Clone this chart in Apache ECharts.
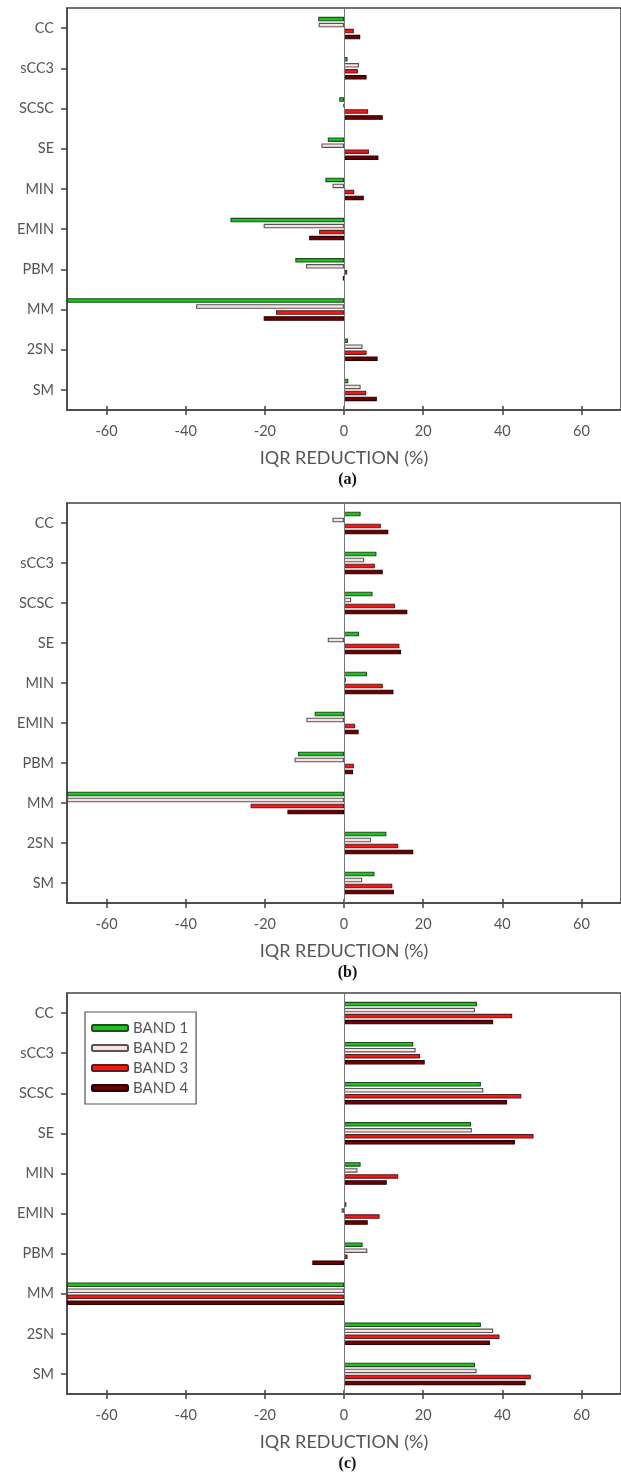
<!DOCTYPE html>
<html>
<head>
<meta charset="utf-8">
<script src="https://cdn.jsdelivr.net/npm/echarts@6/dist/echarts.min.js"></script>
<style>
  html, body { margin: 0; padding: 0; background: #fff; }
  #chart { width: 621px; height: 1479px; }
</style>
</head>
<body>
<div id="chart"></div>
<script>
// Methods (top to bottom) and spectral bands
const categories = ['CC', 'sCC3', 'SCSC', 'SE', 'MIN', 'EMIN', 'PBM', 'MM', '2SN', 'SM'];
const bands = ['BAND 1', 'BAND 2', 'BAND 3', 'BAND 4'];
const xTicks = [-60, -40, -20, 0, 20, 40, 60];
const panelLabels = ['(a)', '(b)', '(c)'];

// IQR reduction (%) — panel (a)
const aBand1 = [-6.5, 0.9, -1.2, -4.1, -4.7, -28.7, -12.3, -70, 1.0, 1.1];
const aBand2 = [-6.4, 3.8, -0.2, -5.7, -2.9, -20.3, -9.6, -37.4, 4.7, 4.2];
const aBand3 = [2.5, 3.5, 6.1, 6.3, 2.6, -6.3, 0.8, -17.2, 5.7, 5.6];
const aBand4 = [4.1, 5.7, 9.8, 8.7, 5.0, -8.8, -0.3, -20.3, 8.5, 8.3];

// IQR reduction (%) — panel (b)
const bBand1 = [4.2, 8.2, 7.2, 3.8, 5.8, -7.4, -11.6, -70, 10.7, 7.7];
const bBand2 = [-2.9, 5.1, 1.8, -4.1, 0.5, -9.5, -12.5, -70, 6.8, 4.6];
const bBand3 = [9.3, 7.8, 12.9, 14.0, 9.8, 2.8, 2.5, -23.6, 13.7, 12.2];
const bBand4 = [11.2, 9.8, 16.0, 14.4, 12.5, 3.7, 2.3, -14.3, 17.5, 12.6];

// IQR reduction (%) — panel (c)
const cBand1 = [33.6, 17.5, 34.6, 32.1, 4.2, 0.6, 4.7, -70, 34.6, 33.1];
const cBand2 = [33.1, 18.1, 35.2, 32.3, 3.4, -0.6, 5.9, -70, 37.7, 33.5];
const cBand3 = [42.5, 19.2, 44.8, 47.9, 13.7, 9.0, 0.9, -70, 39.3, 47.2];
const cBand4 = [37.7, 20.4, 41.2, 43.2, 10.8, 6.0, -8.0, -70, 36.9, 45.9];

const panels = [
  [aBand1, aBand2, aBand3, aBand4],
  [bBand1, bBand2, bBand3, bBand4],
  [cBand1, cBand2, cBand3, cBand4]
];

const bandFill = ['#1ec41e', '#fbe2e2', '#ff1414', '#6c0000'];
const bandBorder = ['#1f4d1f', '#555555', '#552020', '#2a0000'];

const gridTops = [8, 503, 993];
const gridHeights = [402, 400, 401];
const gridLeft = 67;
const gridWidth = 561;
const textGray = '#555';
const font = 'Lato, "Open Sans", sans-serif';

const grids = [], xAxes = [], yAxes = [], series = [], graphics = [];

panels.forEach((panel, p) => {
  grids.push({
    left: gridLeft, top: gridTops[p], width: gridWidth, height: gridHeights[p],
    show: true, borderColor: '#444', borderWidth: 1.5, backgroundColor: 'transparent'
  });
  // main value axis: labels + outward ticks
  xAxes.push({
    type: 'value', gridIndex: p, min: -70, max: 70, position: 'bottom',
    splitLine: { show: false },
    axisLine: { show: true, onZero: false, lineStyle: { color: '#444', width: 1.5 } },
    axisTick: { show: true, inside: false, length: 5, customValues: xTicks,
      lineStyle: { color: '#444', width: 1.5 } },
    axisLabel: { show: true, customValues: xTicks, margin: 14, color: textGray,
      fontSize: 14.5, fontFamily: font },
    name: 'IQR REDUCTION (%)', nameLocation: 'middle', nameGap: 39,
    nameTextStyle: { color: textGray, fontSize: 18, fontFamily: font }
  });
  // companion axis: inward half of the crossing ticks
  xAxes.push({
    type: 'value', gridIndex: p, min: -70, max: 70, position: 'bottom',
    splitLine: { show: false }, axisLine: { show: false, onZero: false },
    axisTick: { show: true, inside: true, length: 4, customValues: xTicks,
      lineStyle: { color: '#444', width: 1.5 } },
    axisLabel: { show: false }
  });
  yAxes.push({
    type: 'category', gridIndex: p, data: categories, inverse: true, position: 'left',
    axisLine: { show: true, onZero: false, lineStyle: { color: '#444', width: 1.5 } },
    axisTick: { show: true, inside: false, length: 6, alignWithLabel: true,
      lineStyle: { color: '#444', width: 1.5 } },
    axisLabel: { color: textGray, fontSize: 14.5, fontFamily: font, margin: 13 },
    splitLine: { show: false }
  });
  panel.forEach((vals, b) => {
    const s = {
      type: 'bar', name: bands[b], xAxisIndex: p * 2, yAxisIndex: p,
      data: vals, barWidth: 4.5, barGap: '33%',
      itemStyle: { color: bandFill[b], borderColor: bandBorder[b], borderWidth: 1.1 },
      emphasis: { disabled: true }, animation: false
    };
    if (b === 0) {
      s.markLine = {
        silent: true, symbol: 'none', label: { show: false },
        lineStyle: { color: '#777', width: 1, type: 'solid' },
        data: [{ xAxis: 0 }], animation: false
      };
    }
    series.push(s);
  });
  graphics.push({
    type: 'text', x: gridLeft + gridWidth / 2, y: gridTops[p] + gridHeights[p] + 70,
    style: { text: panelLabels[p], fill: '#111', font: 'bold 16px "Liberation Serif", serif',
      textAlign: 'center', textVerticalAlign: 'middle' }
  });
});

const chart = echarts.init(document.getElementById('chart'), null, { renderer: 'canvas' });
chart.setOption({
  animation: false,
  grid: grids,
  xAxis: xAxes,
  yAxis: yAxes,
  series: series,
  graphic: graphics,
  legend: {
    data: bands, orient: 'vertical', left: 85, top: 1012,
    itemWidth: 36, itemHeight: 6, itemGap: 4,
    padding: [8, 8, 8, 6],
    borderColor: '#555', borderWidth: 1.2, backgroundColor: '#fff',
    textStyle: { color: textGray, fontSize: 15, fontFamily: font, lineHeight: 16 },
    selectedMode: false
  }
});
</script>
</body>
</html>
